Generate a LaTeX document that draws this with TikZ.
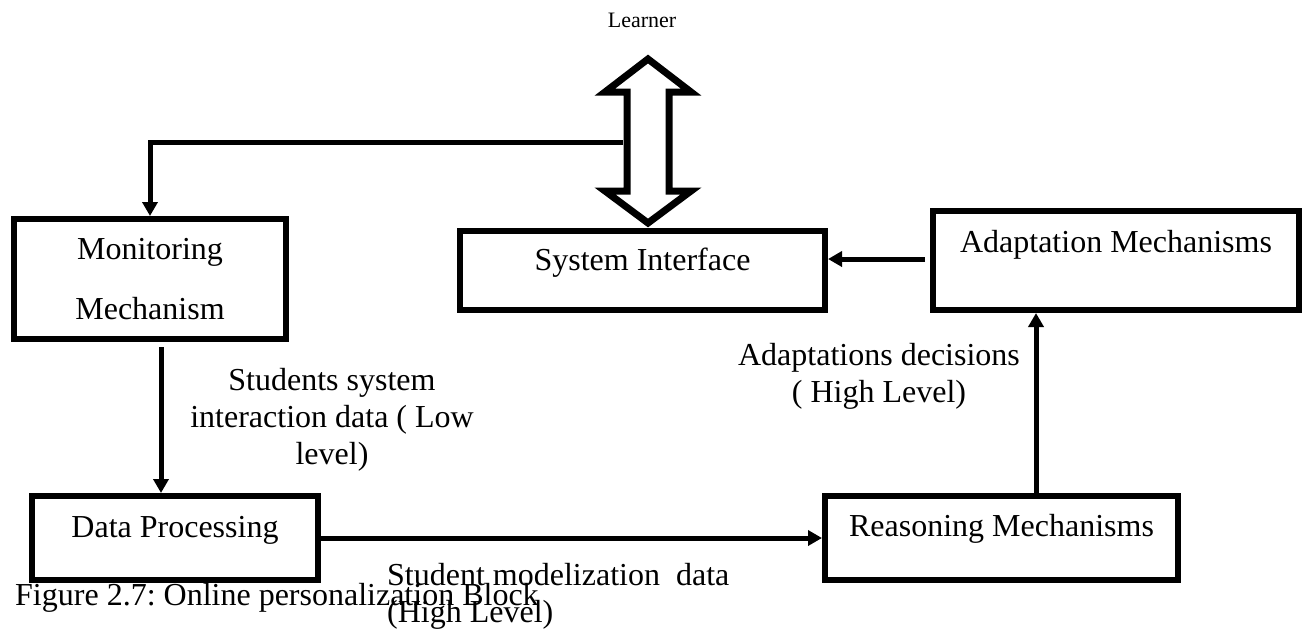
\documentclass[tikz,border=0pt]{standalone}
\usepackage{fontspec}
\setmainfont{Liberation Serif}
\usetikzlibrary{arrows.meta}
\frenchspacing

\newcommand\bigtext{\fontsize{32}{37}\selectfont}

\begin{document}
\begin{tikzpicture}[x=1pt,y=-1pt,
  blockbox/.style={draw, line width=6pt, inner xsep=0pt, inner ysep=0pt,
    font=\bigtext, anchor=base},
  conn/.style={draw, line width=5pt, miter limit=10,
    -{Triangle[width=15pt,length=14pt]}},
  flowtext/.style={inner sep=0pt, font=\bigtext, align=center, anchor=base}]

\useasboundingbox (0,0) rectangle (1304,633);

% top label and the two-way arrow below it
\node[inner sep=0pt, font=\fontsize{22}{26}\selectfont, anchor=base] (learner) at (642,27) {Learner};
\draw[line width=7pt, miter limit=10]
  (648,59) -- (691,92) -- (669,92) -- (669,191) -- (691,191) -- (648,223)
  -- (605,191) -- (627,191) -- (627,92) -- (605,92) -- cycle;
\coordinate (tap) at (623,142);

% blocks
\node[blockbox, minimum width=272pt, minimum height=120pt, anchor=center,
      align=center, font=\fontsize{32}{60}\selectfont] (mon) at (150,279)
      {Monitoring\\Mechanism};
\node[blockbox, minimum width=365pt, text height=39pt, text depth=40pt] (si) at (642.5,270) {System Interface};
\node[blockbox, minimum width=366pt, text height=41pt, text depth=58pt] (am) at (1116,252) {Adaptation Mechanisms};
\node[blockbox, minimum width=286pt, text height=41pt, text depth=43pt] (dp) at (175,537) {Data Processing};
\node[blockbox, minimum width=353pt, text height=40pt, text depth=44pt] (rm) at (1001.5,536) {Reasoning Mechanisms};

% connector columns and rows
\coordinate (colA) at (161,0);
\coordinate (colB) at (1036,0);
\coordinate (rowC) at (0,259);

% connectors
\draw[conn] (tap) -| (mon.north);
\draw[conn, shorten <=5pt] (mon.south -| colA) -- (dp.north -| colA);
\draw[conn] (dp.east) -- (rm.west);
\draw[conn] (rm.north -| colB) -- (am.south -| colB);
\draw[conn, shorten <=5pt] (am.west |- rowC) -- (si.east |- rowC);

% connector labels (placed by the baseline of their last line)
\node[flowtext] (lowlbl) at (332,464) {Students system\\interaction data ( Low\\level)};
\node[flowtext] (declbl) at (879,402) {Adaptations decisions\\( High Level)};
\node[flowtext, align=left, anchor=base west] (modlbl) at (387,622) {Student modelization\ \ data\\(High Level)};

% caption
\node[inner sep=0pt, font=\bigtext, anchor=base west] (caption) at (15,605)
  {Figure 2.7: Online personalization Block};

\end{tikzpicture}
\end{document}
